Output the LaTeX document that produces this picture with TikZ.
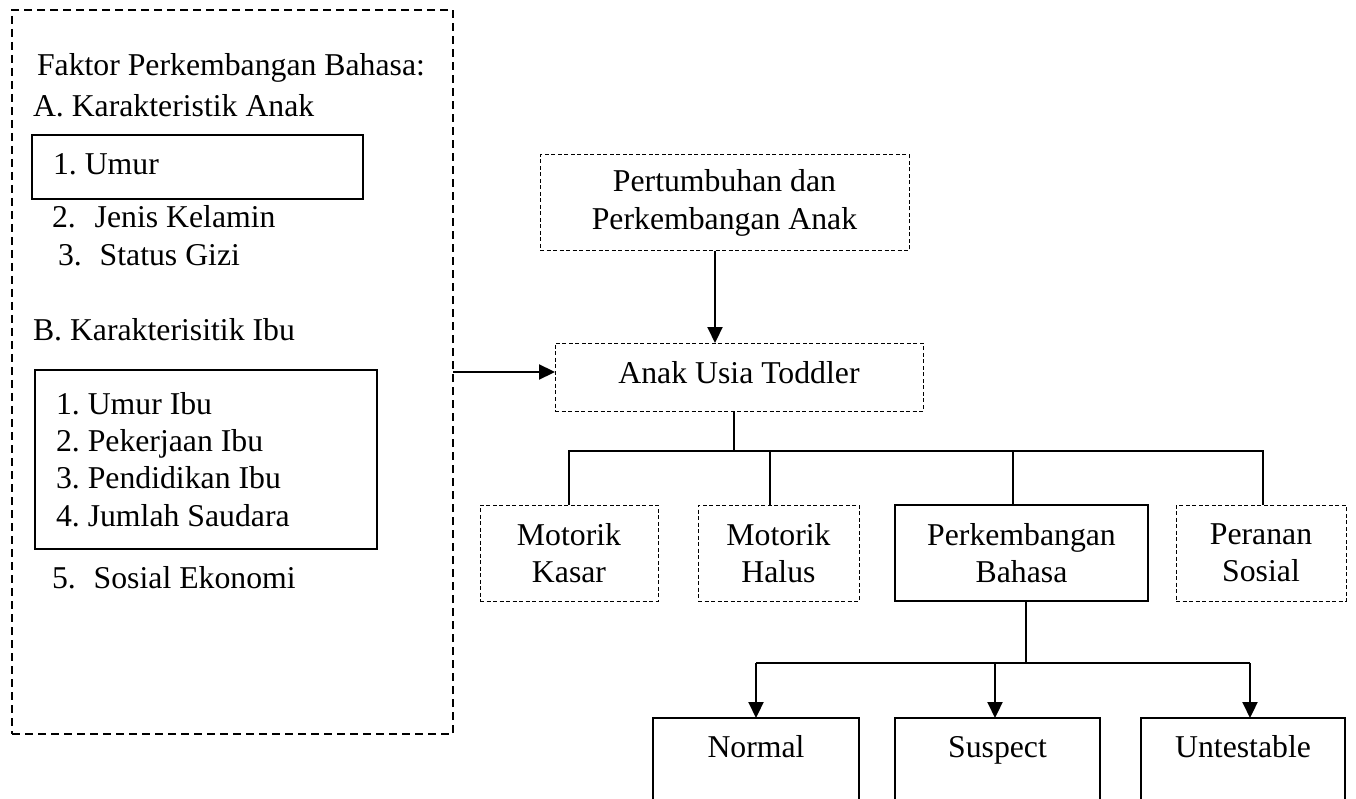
\documentclass[tikz,border=0pt]{standalone}
\usepackage{fontspec}
\setmainfont{Liberation Serif}
\frenchspacing
\usetikzlibrary{arrows.meta,calc}
\tikzset{
  every node/.style={font=\fontsize{31.75}{37.4}\selectfont, outer sep=0pt},
  bigbox/.style={draw, line width=2.8pt, dash pattern=on 8pt off 5pt, inner sep=0pt},
  dashbox/.style={draw, line width=1pt, dash pattern=on 4pt off 2.5pt, inner sep=0pt, align=center},
  solidbox/.style={draw, line width=1.2pt, inner sep=0pt, align=center},
  boldbox/.style={draw, line width=2pt, inner sep=0pt, align=center},
  listbox/.style={draw, line width=1.2pt, inner xsep=21pt, inner ysep=0pt, align=flush left, anchor=north west},
  txt/.style={inner sep=0pt, anchor=base west},
  conn/.style={line width=2pt},
  thinconn/.style={line width=1.2pt},
  arr/.style={line width=2.2pt, -{Triangle[width=15pt,length=16pt]}},
}
\begin{document}
\begin{tikzpicture}[x=1pt,y=-1pt]
\useasboundingbox (0,0) rectangle (1356,799);
\clip (0,0) rectangle (1356,799);

% left factor box
\node[bigbox, minimum width=441pt, minimum height=724pt] (faktor) at (232.5,372) {};
\node[txt] (judul) at (37,76) {Faktor Perkembangan Bahasa:};
\node[txt] (ka) at (33,117) {A. Karakteristik Anak};
\node[listbox, minimum width=331pt, minimum height=64pt, text width=289pt, text depth=5pt] (umur) at (32,135) {1. Umur};
\node[txt] (jk) at (52,228) {2.\hspace{11pt} Jenis Kelamin};
\node[txt] (sg) at (58,266) {3.\hspace{10pt} Status Gizi};
\node[txt] (kb) at (33,340) {B. Karakterisitik Ibu};
\node[listbox, minimum width=342pt, minimum height=179pt, text width=300pt] (ibu) at (35,370)
  {1. Umur Ibu\\2. Pekerjaan Ibu\\3. Pendidikan Ibu\\4. Jumlah Saudara};
\node[txt] (se) at (52,588) {5.\hspace{10pt} Sosial Ekonomi};

% right tree
\node[dashbox, minimum width=369pt, minimum height=96pt] (pert) at (724.5,203) {Pertumbuhan dan\\Perkembangan Anak};
\node[dashbox, minimum width=368pt, minimum height=68pt, text depth=9pt] (toddler) at (739,377) {Anak Usia Toddler};

\node[dashbox, minimum width=178pt, minimum height=96pt] (mk) at (569,553) {Motorik\\Kasar};
\node[dashbox, minimum width=161pt, minimum height=96pt] (mh) at (778.5,553) {Motorik\\Halus};
\node[boldbox, minimum width=253pt, minimum height=96pt] (pb) at (1021.5,553) {Perkembangan\\Bahasa};
\node[dashbox, minimum width=170pt, minimum height=96pt] (ps) at (1261,553) {Peranan\\Sosial};

\node[solidbox, anchor=north, minimum width=206pt, inner ysep=17.3pt, text height=21.7pt, text depth=70pt] (normal) at (756,718) {Normal};
\node[solidbox, anchor=north, minimum width=205pt, inner ysep=17.3pt, text height=21.7pt, text depth=70pt] (suspect) at (997.5,718) {Suspect};
\node[solidbox, anchor=north, minimum width=204pt, inner ysep=17.3pt, text height=21.7pt, text depth=70pt] (untest) at (1243,718) {Untestable};

% connectors
\draw[arr] (faktor.east) -- (faktor.east -| toddler.west);
\draw[arr] ([xshift=-9.5pt]pert.south) -- ([xshift=-9.5pt]pert.south |- toddler.north);

\coordinate (bus) at (734,451);
\draw[thinconn] ([xshift=-5pt]toddler.south) -- (bus);
\draw[conn] (mk.north) -- (mk.north |- bus) -- ([xshift=2pt]ps.north |- bus) -- ([xshift=2pt]ps.north);
\draw[conn] ([xshift=-8.5pt]mh.north) -- ([xshift=-8.5pt]mh.north |- bus);
\draw[conn] ([xshift=-8.5pt]pb.north) -- ([xshift=-8.5pt]pb.north |- bus);

\coordinate (bus2) at (1026,663);
\draw[conn] ([xshift=4.5pt]pb.south) -- (bus2);
\draw[conn] (normal.north |- bus2) -- ([xshift=7pt]untest.north |- bus2);
\draw[arr] (normal.north |- bus2) -- (normal.north);
\draw[arr] ([xshift=-2.5pt]suspect.north |- bus2) -- ([xshift=-2.5pt]suspect.north);
\draw[arr] ([xshift=7pt]untest.north |- bus2) -- ([xshift=7pt]untest.north);
\end{tikzpicture}
\end{document}
